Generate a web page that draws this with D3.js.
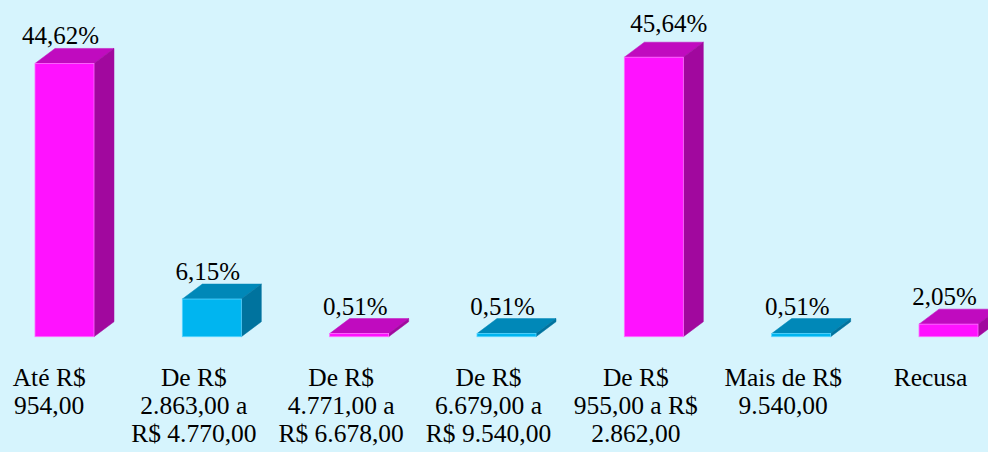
<!DOCTYPE html>
<html>
<head>
<meta charset="utf-8">
<script src="https://cdn.jsdelivr.net/npm/d3@7"></script>
</head>
<body style="margin:0; background:#d6f4fd">
<svg width="988" height="452" font-family="serif"></svg>
<script>
// data
var categories = ["Até R$ 954,00", "De R$ 2.863,00 a R$ 4.770,00", "De R$ 4.771,00 a R$ 6.678,00",
                  "De R$ 6.679,00 a R$ 9.540,00", "De R$ 955,00 a R$ 2.862,00", "Mais de R$ 9.540,00", "Recusa"];
var labelLines = [
    ["Até R$", "954,00"],
    ["De R$", "2.863,00 a", "R$ 4.770,00"],
    ["De R$", "4.771,00 a", "R$ 6.678,00"],
    ["De R$", "6.679,00 a", "R$ 9.540,00"],
    ["De R$", "955,00 a R$", "2.862,00"],
    ["Mais de R$", "9.540,00"],
    ["Recusa"]
];
var values = [44.62, 6.15, 0.51, 0.51, 45.64, 0.51, 2.05];
var valueLabels = ["44,62%", "6,15%", "0,51%", "0,51%", "45,64%", "0,51%", "2,05%"];

var palette = {
    magenta: {front: "#ff12ff", top: "#c00bbf", side: "#a1089e", edge: "#ff70ff"},
    cyan:    {front: "#00b5f0", top: "#0088b8", side: "#00739e", edge: "#55d4ff"}
};
var barColors = ["magenta", "cyan", "magenta", "cyan", "magenta", "cyan", "magenta"];

var svg = d3.select("svg"),
    width = +svg.attr("width"),
    height = +svg.attr("height");

svg.style("display", "block");
svg.append("rect")
    .attr("width", width)
    .attr("height", height)
    .attr("fill", "#d6f4fd");

var depthX = 20, depthY = 15, barW = 59;
var baseY = 336.7;

var x = d3.scalePoint()
    .domain(d3.range(categories.length))
    .range([64.5, 948.5]);

var y = d3.scaleLinear()
    .domain([0, 50])
    .range([baseY, baseY - 306.2]);

var bars = svg.selectAll(".bar")
    .data(values)
    .enter()
    .append("g")
    .attr("class", "bar");

bars.each(function (d, i) {
    var g = d3.select(this),
        c = palette[barColors[i]],
        x0 = x(i) - barW / 2,
        x1 = x0 + barW,
        yt = y(d);

    // top
    g.append("path")
        .attr("d", "M" + x0 + "," + yt + "L" + (x0 + depthX) + "," + (yt - depthY) +
                   "L" + (x1 + depthX) + "," + (yt - depthY) + "L" + x1 + "," + yt + "Z")
        .attr("fill", c.top)
        .attr("stroke", c.top)
        .attr("stroke-width", 0.5);
    // side
    g.append("path")
        .attr("d", "M" + x1 + "," + yt + "L" + (x1 + depthX) + "," + (yt - depthY) +
                   "L" + (x1 + depthX) + "," + (baseY - depthY) + "L" + x1 + "," + baseY + "Z")
        .attr("fill", c.side)
        .attr("stroke", c.side)
        .attr("stroke-width", 0.5);
    // front
    g.append("rect")
        .attr("x", x0)
        .attr("y", yt)
        .attr("width", barW)
        .attr("height", baseY - yt)
        .attr("fill", c.front)
        .attr("stroke", c.edge)
        .attr("stroke-width", 0.8);
});

// value labels (the 45,64% one sits a bit off, as in the original)
var labelNudge = {4: [19, -6]};
svg.selectAll(".vlabel")
    .data(valueLabels)
    .enter()
    .append("text")
    .attr("text-anchor", "middle")
    .attr("font-family", "serif")
    .attr("font-size", 25)
    .attr("fill", "#000")
    .attr("x", function (d, i) { return x(i) - 4 + (labelNudge[i] ? labelNudge[i][0] : 0); })
    .attr("y", function (d, i) { return y(values[i]) - depthY - 4 + (labelNudge[i] ? labelNudge[i][1] : 0); })
    .text(function (d) { return d; });

// category labels
var cats = svg.selectAll(".cat")
    .data(labelLines)
    .enter()
    .append("text")
    .attr("text-anchor", "middle")
    .attr("font-family", "serif")
    .attr("font-size", 25.5)
    .attr("fill", "#000")
    .attr("x", function (d, i) { return x(i) - 18; })
    .attr("y", 385.7);

cats.selectAll("tspan")
    .data(function (d) { return d; })
    .enter()
    .append("tspan")
    .attr("x", function () { return d3.select(this.parentNode).attr("x"); })
    .attr("dy", function (d, j) { return j === 0 ? 0 : 28.3; })
    .text(function (d) { return d; });

// keep labels inside the left edge
cats.each(function () {
    var b = this.getBBox();
    if (b.x < 12.7) {
        var shift = 12.7 - b.x, t = d3.select(this);
        var nx = +t.attr("x") + shift;
        t.attr("x", nx);
        t.selectAll("tspan").attr("x", nx);
    }
});
</script>
</body>
</html>
